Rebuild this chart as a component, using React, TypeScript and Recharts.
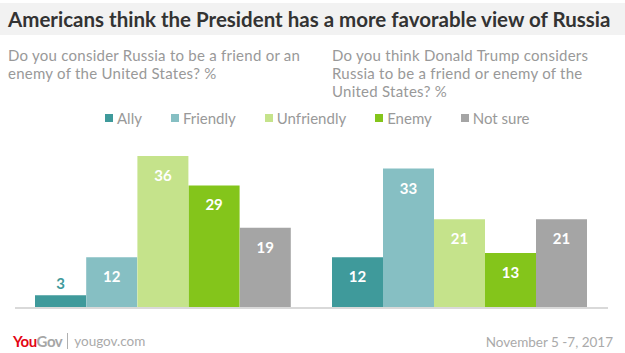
import { BarChart, Bar, XAxis, YAxis, Cell, LabelList } from 'recharts';

const categories = ['Ally', 'Friendly', 'Unfriendly', 'Enemy', 'Not sure'];
const russiaView = [3, 12, 36, 29, 19];
const trumpView = [12, 33, 21, 13, 21];
const barColors = ['#3f9a9b', '#86bfc3', '#c5e38b', '#84c51b', '#a5a5a5'];

const FONT = 'Lato, "Open Sans", sans-serif';

function toRows(values: number[]) {
  return categories.map((name, i) => ({ name, value: values[i], color: barColors[i] }));
}

// value labels: white inside the bar, or coloured above it when the bar is too short
function ValueLabel(props: any) {
  const { x, y, width, value, index } = props;
  const cx = x + width / 2;
  const small = value < 6;
  return (
    <text
      x={cx}
      y={small ? y - 12 : y + 19}
      textAnchor="middle"
      dominantBaseline="central"
      fill={small ? barColors[index] : '#ffffff'}
      fontFamily={FONT}
      fontWeight={700}
      fontSize={15}
    >
      {value}
    </text>
  );
}

function Panel({ values, width, padLeft, padRight }: { values: number[]; width: number; padLeft: number; padRight: number }) {
  return (
    <BarChart
      width={width}
      height={175}
      data={toRows(values)}
      margin={{ top: 0, right: 0, left: 0, bottom: 5 }}
      barCategoryGap={0}
    >
      <XAxis
        dataKey="name"
        height={1}
        tick={false}
        tickLine={false}
        axisLine={{ stroke: '#d9d9d9', strokeWidth: 2 }}
        padding={{ left: padLeft, right: padRight }}
      />
      <YAxis hide domain={[0, 40]} />
      <Bar dataKey="value" isAnimationActive={false}>
        {values.map((_, i) => (
          <Cell key={`cell-${i}`} fill={barColors[i]} />
        ))}
        <LabelList dataKey="value" content={<ValueLabel />} />
      </Bar>
    </BarChart>
  );
}

const subStyle = {
  position: 'absolute' as const,
  top: 46,
  fontSize: 15,
  letterSpacing: 0.25,
  lineHeight: '18px',
  color: '#999',
  whiteSpace: 'nowrap' as const,
};

export default function App() {
  return (
    <div
      style={{
        position: 'absolute',
        left: 0,
        top: 0,
        width: 625,
        height: 353,
        background: '#fff',
        fontFamily: FONT,
        overflow: 'hidden',
      }}
    >
      <div
        style={{
          position: 'absolute',
          left: 0,
          top: 3,
          width: 625,
          height: 32,
          background: '#f2f2f2',
        }}
      />
      <div
        style={{
          position: 'absolute',
          left: 8,
          top: 7,
          fontSize: 20.5,
          fontWeight: 700,
          color: '#333',
          lineHeight: '24px',
          whiteSpace: 'nowrap',
        }}
      >
        Americans think the President has a more favorable view of Russia
      </div>

      <div style={{ ...subStyle, left: 8 }}>
        Do you consider Russia to be a friend or an
        <br />
        enemy of the United States? %
      </div>
      <div style={{ ...subStyle, left: 332 }}>
        Do you think Donald Trump considers
        <br />
        Russia to be a friend or enemy of the
        <br />
        United States? %
      </div>

      <div style={{ position: 'absolute', left: 105, top: 109, display: 'flex', alignItems: 'center' }}>
        {categories.map((c, i) => (
          <div key={c} style={{ display: 'flex', alignItems: 'center', marginRight: 29 }}>
            <span style={{ width: 8, height: 8, background: barColors[i], display: 'inline-block', marginRight: 4 }} />
            <span style={{ fontSize: 15, color: '#999', lineHeight: '18px' }}>{c}</span>
          </div>
        ))}
      </div>

      <div style={{ position: 'absolute', left: 15, top: 139 }}>
        <Panel values={russiaView} width={305} padLeft={20} padRight={29} />
      </div>
      <div style={{ position: 'absolute', left: 320, top: 139 }}>
        <Panel values={trumpView} width={288} padLeft={12} padRight={21} />
      </div>

      <div style={{ position: 'absolute', left: 13, top: 332, display: 'flex', alignItems: 'center', fontSize: 15, lineHeight: '18px' }}>
        <span style={{ color: '#e30613', fontWeight: 700, letterSpacing: -0.5 }}>You</span>
        <span style={{ color: '#a6a6a6', fontWeight: 700, letterSpacing: -0.5 }}>Gov</span>
        <span style={{ width: 1, height: 16, background: '#b0b0b0', margin: '0 6px 0 5px', display: 'inline-block' }} />
        <span style={{ color: '#aaa', fontSize: 13.5 }}>yougov.com</span>
      </div>
      <div style={{ position: 'absolute', right: 12, top: 333, fontSize: 13.5, lineHeight: '18px', color: '#aaa' }}>
        November 5 -7, 2017
      </div>
    </div>
  );
}
